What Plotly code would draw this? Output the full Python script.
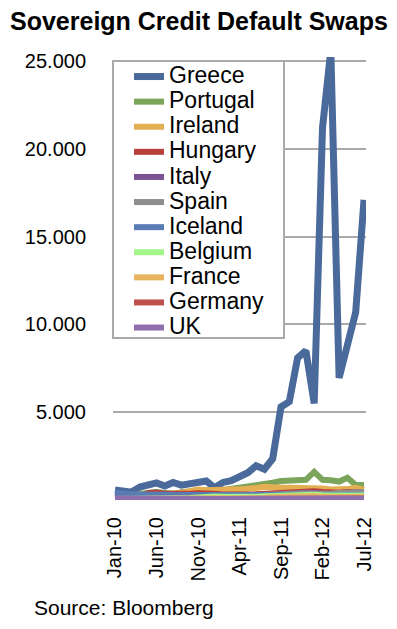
import plotly.graph_objects as go

months = ["Jan-10","Feb-10","Mar-10","Apr-10","May-10","Jun-10","Jul-10","Aug-10","Sep-10","Oct-10","Nov-10","Dec-10",
          "Jan-11","Feb-11","Mar-11","Apr-11","May-11","Jun-11","Jul-11","Aug-11","Sep-11","Oct-11","Nov-11","Dec-11",
          "Jan-12","Feb-12","Mar-12","Apr-12","May-12","Jun-12","Jul-12"]
tick_months = ["Jan-10","Jun-10","Nov-10","Apr-11","Sep-11","Feb-12","Jul-12"]
y_ticks = [5000, 10000, 15000, 20000, 25000]
y_tick_labels = ["5.000", "10.000", "15.000", "20.000", "25.000"]

greece   = [570,480,450,740,850,970,800,1000,850,950,1000,1080,700,1000,1100,1350,1550,1950,1750,2350,5300,5600,8100,8500,5500,21200,25600,6950,8800,10700,17100]
portugal = [120,130,140,350,420,450,400,350,450,500,540,570,500,560,620,680,740,800,880,980,1080,1100,1150,1150,1600,1150,1120,1050,1270,850,850]
ireland  = [150,150,150,200,250,280,300,320,420,500,600,560,600,620,600,600,620,680,750,700,700,700,700,720,700,650,600,600,620,700,580]
hungary  = [150,150,140,160,400,420,350,330,350,350,380,400,350,320,300,300,320,330,350,400,430,460,500,520,500,450,400,420,450,430,400]
italy    = [100,110,100,120,180,200,170,190,200,180,200,230,200,180,160,150,160,200,260,300,330,350,420,420,400,350,330,380,400,420,430]
spain    = [80,90,100,130,180,220,200,200,210,200,270,300,260,250,230,230,250,270,300,320,330,340,400,380,360,330,350,400,430,450,460]
iceland  = [400,350,300,300,320,330,320,300,280,280,280,300,250,250,230,220,230,240,260,280,300,300,300,280,270,260,260,270,300,290,290]
belgium  = [50,50,60,70,100,120,100,110,120,120,150,200,200,180,160,150,160,180,220,240,260,300,330,320,300,270,260,290,300,280,250]
france   = [40,50,55,60,80,90,80,80,80,80,100,110,100,95,90,85,90,100,130,160,180,190,220,230,220,190,170,200,210,190,170]
germany  = [30,35,35,35,45,45,40,40,40,40,50,60,55,50,45,45,45,50,60,80,90,100,110,100,90,80,75,90,100,95,90]
uk       = [80,85,85,85,95,95,80,70,65,60,60,70,60,60,55,55,55,60,70,80,90,95,100,95,90,80,75,80,80,75,70]

series = [
    ("Greece", greece, "#4a6a9b", 7),
    ("Portugal", portugal, "#7ba55a", 6),
    ("Ireland", ireland, "#e4ae52", 6),
    ("Hungary", hungary, "#b8403a", 6),
    ("Italy", italy, "#7b5394", 6),
    ("Spain", spain, "#8e8e8e", 6),
    ("Iceland", iceland, "#5a7cb4", 6),
    ("Belgium", belgium, "#a3f58a", 6),
    ("France", france, "#e8b45f", 6),
    ("Germany", germany, "#c0504d", 6),
    ("UK", uk, "#8f6fad", 6),
]

fig = go.Figure()
for name, vals, color, w in series:
    fig.add_trace(go.Scatter(
        x=months, y=vals, mode="lines",
        name='<span style="font-size:23px">' + name + '</span>',
        line=dict(color=color, width=w),
    ))

W, H = 397, 629
ml, mr, mt, mb = 113, 31, 57, 129
pw = W - ml - mr
ph = H - mt - mb

def px_x(x):
    return (x - ml) / pw

def px_y(y):
    return (H - mb - y) / ph

fig.update_layout(
    width=W, height=H,
    margin=dict(l=ml, r=mr, t=mt, b=mb),
    paper_bgcolor="white", plot_bgcolor="white",
    font=dict(family="Liberation Sans, Arial, sans-serif", color="black"),
    title=dict(text="<b>Sovereign Credit Default Swaps</b>", font=dict(size=25, color="black"),
               x=10 / W, xref="container", xanchor="left",
               y=1 - 21 / H, yref="container", yanchor="middle"),
    showlegend=True,
    legend=dict(x=px_x(129), xanchor="left", y=px_y(59), yanchor="top",
                bgcolor="rgba(0,0,0,0)", borderwidth=0,
                font=dict(size=17, color="black"), itemwidth=30,
                tracegroupgap=0),
    xaxis=dict(type="category", range=[-0.24, 30.24], tickmode="array", tickvals=tick_months,
               ticktext=tick_months, tickangle=-90, tickfont=dict(size=20),
               showgrid=False, showline=False, ticks="", ticklabelstandoff=12, zeroline=False),
    yaxis=dict(range=[0, 25230], tickmode="array", tickvals=y_ticks, ticktext=y_tick_labels,
               tickfont=dict(size=20), showgrid=True, gridcolor="#aaaaaa", gridwidth=1.5,
               zeroline=False, showline=False, ticks="", ticklabelstandoff=26),
    shapes=[dict(type="rect", xref="paper", yref="paper",
                 x0=px_x(113), x1=px_x(284), y0=px_y(338), y1=px_y(61),
                 line=dict(color="#aaaaaa", width=2), fillcolor="white", layer="above")],
    annotations=[dict(text="Source: Bloomberg", xref="paper", yref="paper",
                      x=px_x(32), xanchor="left",
                      y=px_y(607), yanchor="middle",
                      showarrow=False, font=dict(size=21, color="black"))],
)

fig.write_html("out.html", config={"displayModeBar": False},
               post_script="document.body.style.margin='0';")
